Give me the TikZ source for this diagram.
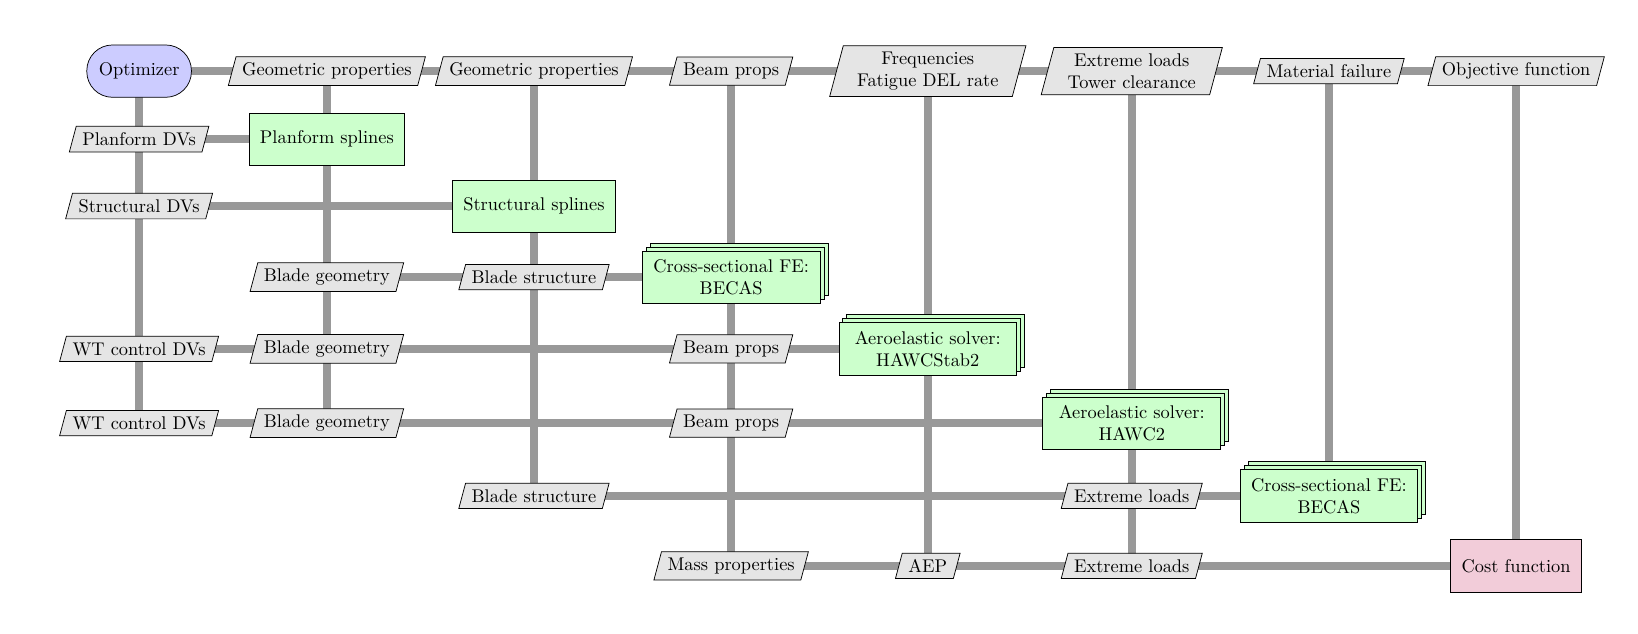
\documentclass[tikz,border=0pt]{standalone}
\usepackage{tikz}
\usetikzlibrary{positioning,shapes.geometric,shadows,backgrounds}
\tikzset{
  comp/.style={draw,fill=green!20,align=center,minimum height=1cm,inner xsep=6pt},
  stackcomp/.style={comp,minimum width=3.4cm,double copy shadow={shadow xshift=0.5ex,shadow yshift=0.5ex}},
  optbox/.style={draw,fill=blue!20,rounded corners=0.49cm,minimum width=2cm,minimum height=1cm},
  costbox/.style={draw,fill=purple!20,minimum height=1cm,inner xsep=6pt},
  datanode/.style={draw,fill=black!10,trapezium,trapezium left angle=75,trapezium right angle=105,align=center},
  datawide/.style={datanode,inner xsep=7.5pt},
  conn/.style={line width=4.5pt,draw=black!40}
}

\begin{document}
\begin{tikzpicture}
\useasboundingbox (0,0) rectangle (31.32,-12.12);

% first row
\node[optbox] (opt) at (2.66,-1.36) {Optimizer};
\node[datanode] (geo1) at (6.25,-1.36) {Geometric properties};
\node[datanode] (geo2) at (10.21,-1.36) {Geometric properties};
\node[datanode] (beam1) at (13.98,-1.36) {Beam props};
\node[datawide] (freq) at (17.74,-1.36) {Frequencies\\Fatigue DEL rate};
\node[datawide] (extr1) at (21.64,-1.36) {Extreme loads\\Tower clearance};
\node[datanode] (matf) at (25.41,-1.36) {Material failure};
\node[datanode] (objf) at (28.99,-1.36) {Objective function};

% splines
\node[datanode] (planDV) at (2.66,-2.66) {Planform DVs};
\node[comp] (plansp) at (6.25,-2.66) {Planform splines};
\node[datanode] (structDV) at (2.66,-3.94) {Structural DVs};
\node[comp] (structsp) at (10.21,-3.94) {Structural splines};

% cross sections
\node[datanode] (bgeo1) at (6.25,-5.30) {Blade geometry};
\node[datanode] (bstr1) at (10.21,-5.30) {Blade structure};
\node[stackcomp] (becas1) at (13.98,-5.30) {Cross-sectional FE:\\BECAS};

% aeroelastic solvers
\node[datanode] (ctrl1) at (2.66,-6.67) {WT control DVs};
\node[datanode] (bgeo2) at (6.25,-6.67) {Blade geometry};
\node[datanode] (beam2) at (13.98,-6.67) {Beam props};
\node[stackcomp] (hs2) at (17.74,-6.67) {Aeroelastic solver:\\HAWCStab2};

\node[datanode] (ctrl2) at (2.66,-8.09) {WT control DVs};
\node[datanode] (bgeo3) at (6.25,-8.09) {Blade geometry};
\node[datanode] (beam3) at (13.98,-8.09) {Beam props};
\node[stackcomp] (h2) at (21.64,-8.09) {Aeroelastic solver:\\HAWC2};

\node[datanode] (bstr2) at (10.21,-9.48) {Blade structure};
\node[datanode] (extr2) at (21.64,-9.48) {Extreme loads};
\node[stackcomp] (becas2) at (25.41,-9.48) {Cross-sectional FE:\\BECAS};

% cost
\node[datanode] (mass) at (13.98,-10.82) {Mass properties};
\node[datanode] (aep) at (17.74,-10.82) {AEP};
\node[datanode] (extr3) at (21.64,-10.82) {Extreme loads};
\node[costbox] (cost) at (28.99,-10.82) {Cost function};

\begin{pgfonlayer}{background}
\draw[conn] (opt.center) -- (objf.center);
\draw[conn] (planDV.center) -- (plansp.center);
\draw[conn] (structDV.center) -- (structsp.center);
\draw[conn] (bgeo1.center) -- (becas1.center);
\draw[conn] (ctrl1.center) -- (hs2.center);
\draw[conn] (ctrl2.center) -- (h2.center);
\draw[conn] (bstr2.center) -- (becas2.center);
\draw[conn] (mass.center) -- (cost.center);

\draw[conn] (opt.center) -- (ctrl2.center);
\draw[conn] (geo1.center) -- (bgeo3.center);
\draw[conn] (geo2.center) -- (bstr2.center);
\draw[conn] (beam1.center) -- (mass.center);
\draw[conn] (freq.center) -- (aep.center);
\draw[conn] (extr1.center) -- (extr3.center);
\draw[conn] (matf.center) -- (becas2.center);
\draw[conn] (objf.center) -- (cost.center);
\end{pgfonlayer}
\end{tikzpicture}
\end{document}
